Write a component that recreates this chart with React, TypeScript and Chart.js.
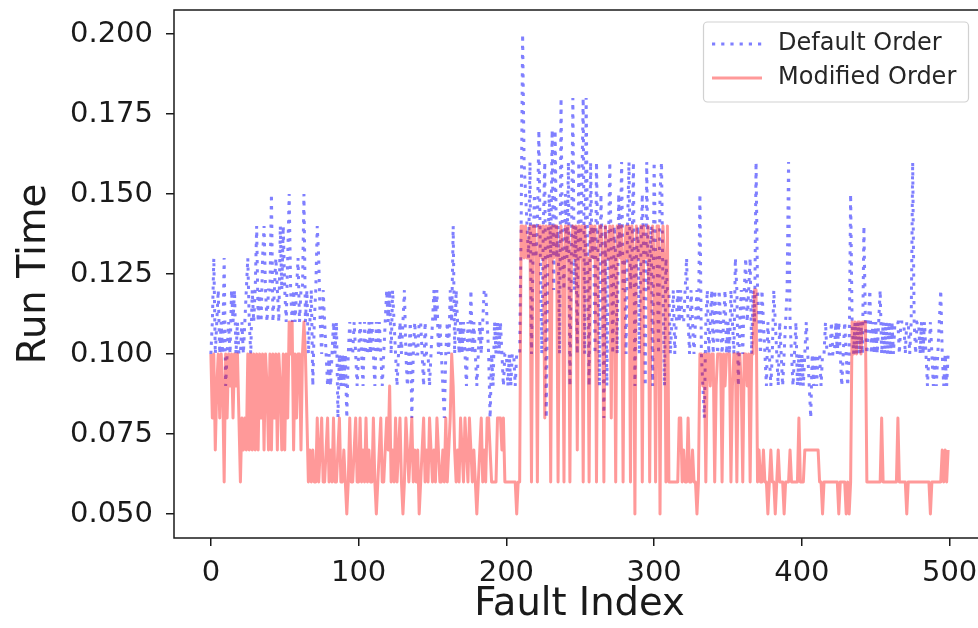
import React, { useEffect, useRef } from "react";
import { Chart, registerables } from "chart.js";

Chart.register(...registerables);

// Run times in hundredths of a second, one value per fault index (0..499)
const defaultOrder: number[] = [
  10,11,13,10,11,12,10,11,10,13,
  9,10,11,10,12,11,12,10,11,10,
  10,11,10,11,12,13,11,10,12,11,
  12,14,11,12,11,13,14,12,11,12,
  12,15,11,12,13,12,11,14,12,14,
  12,11,13,15,12,11,12,11,12,13,
  11,12,12,15,11,12,10,11,12,9,
  11,12,14,13,11,10,12,11,10,9,
  10,9,10,11,10,11,8,10,9,10,
  9,10,8,10,11,10,10,11,10,9,
  10,11,10,9,11,10,10,11,10,11,
  10,9,11,10,11,10,9,10,11,12,
  11,12,10,12,11,10,9,10,11,10,
  11,12,10,9,10,11,8,10,11,10,
  10,11,11,10,9,11,10,10,9,10,
  11,12,11,12,10,11,10,9,8,10,
  11,10,12,11,14,10,12,11,10,11,
  10,11,10,9,11,10,12,10,11,10,
  9,10,11,10,11,12,12,11,10,8,
  10,9,11,10,11,10,11,10,9,10,
  10,9,10,9,10,10,9,10,10,10,
  14,20,16,15,14,13,16,10,13,15,
  13,14,17,13,10,14,16,8,13,15,
  13,17,12,17,13,14,10,18,13,12,
  15,13,16,9,13,18,12,14,10,16,
  13,15,18,10,18,13,9,16,13,14,
  10,16,13,9,15,13,8,14,9,13,
  16,13,10,14,13,10,15,13,16,12,
  13,10,14,16,12,13,16,9,13,14,
  10,13,15,13,9,16,12,13,14,9,
  16,13,13,10,15,16,12,9,13,12,
  12,10,11,12,10,11,12,11,12,11,
  11,12,13,11,10,12,11,10,11,12,
  11,15,10,9,8,11,12,10,11,12,
  10,12,11,10,12,11,10,11,12,10,
  11,10,12,11,10,13,12,9,11,12,
  10,12,13,11,12,13,10,12,11,16,
  12,11,10,12,11,10,9,11,10,9,
  10,12,11,10,9,11,10,9,10,11,
  12,16,11,10,9,10,11,9,10,9,
  10,9,10,11,10,9,8,10,9,10,
  9,10,10,9,10,10,11,10,10,10,
  11,10,10,11,10,11,10,9,10,11,
  10,9,10,15,11,10,11,10,11,10,
  11,10,14,11,10,11,12,10,11,10,
  11,10,11,12,10,11,10,11,10,11,
  10,11,10,11,11,11,10,11,11,11,
  10,11,11,10,11,16,11,10,11,11,
  10,11,10,11,10,9,10,11,10,9,
  10,9,10,11,12,10,9,10,9,10,
];

const modifiedOrder: number[] = [
  10,8,10,7,9,10,8,10,9,6,
  10,8,10,9,10,8,10,9,10,8,
  6,8,7,8,7,10,7,10,7,10,
  7,10,7,10,8,10,7,10,9,7,
  10,7,10,8,10,7,10,9,7,10,
  7,10,8,11,10,11,7,10,8,10,
  10,7,10,11,10,8,6,7,6,7,
  6,6,8,6,7,8,6,6,7,8,
  6,7,6,8,6,6,7,8,6,6,
  7,6,5,6,8,6,6,7,8,6,
  6,8,6,7,6,8,6,7,6,6,
  8,6,5,6,7,8,6,6,7,8,
  7,9,6,7,6,8,6,7,8,6,
  5,6,8,7,6,7,8,6,7,6,
  7,5,6,7,8,6,7,6,8,7,
  6,7,6,8,7,6,6,7,6,8,
  6,7,8,10,9,7,6,7,6,8,
  7,6,8,7,6,8,7,6,7,6,
  5,6,7,8,6,7,6,8,8,7,
  6,6,6,6,8,8,8,7,8,6,
  6,6,6,6,6,6,6,5,6,6,
  14,14,13,14,13,13,14,6,14,14,
  13,6,14,14,13,14,8,14,13,14,
  6,14,13,14,14,6,13,14,13,6,
  14,13,14,6,13,14,13,14,7,14,
  13,14,6,14,13,13,6,14,14,13,
  14,6,13,14,14,13,6,14,13,13,
  14,8,14,13,6,14,14,13,14,6,
  13,14,13,14,6,14,13,5,14,13,
  13,14,6,14,13,13,14,6,13,14,
  13,6,14,14,5,13,14,13,6,14,
  6,6,6,6,6,6,6,8,8,6,
  7,6,6,8,6,6,7,6,6,5,
  6,10,10,9,10,6,10,10,9,10,
  10,6,9,10,10,10,6,10,9,10,
  10,10,6,9,10,10,6,10,10,9,
  6,10,10,9,10,6,10,10,12,12,
  6,7,6,6,7,6,6,5,6,7,
  6,6,5,6,7,6,6,6,5,6,
  6,6,7,6,6,6,6,6,8,6,
  6,6,7,7,7,7,7,7,7,7,
  7,7,6,6,5,6,6,6,6,6,
  6,6,6,6,6,5,6,6,6,6,
  5,6,5,6,11,10,11,10,11,11,
  10,11,11,11,6,6,6,6,6,6,
  6,6,6,6,8,6,6,6,6,6,
  6,6,6,6,6,8,6,6,6,6,
  6,5,6,6,6,6,6,6,6,6,
  6,6,6,6,6,6,6,5,6,6,
  6,6,6,6,6,7,6,7,6,7,
];

const seriesLabels = ["Default Order", "Modified Order"];
const xTickValues = [0, 100, 200, 300, 400, 500];
const yTickValues = [0.05, 0.075, 0.1, 0.125, 0.15, 0.175, 0.2];

const FONT = '"DejaVu Sans", "Liberation Sans", sans-serif';
const INK = "#1a1a1a";

const framePlugin = {
  id: "mplFrame",
  afterDatasetsDraw(chart: any) {
    const { ctx, chartArea } = chart;
    ctx.save();
    ctx.strokeStyle = INK;
    ctx.lineWidth = 1.5;
    ctx.setLineDash([]);
    ctx.strokeRect(chartArea.left, chartArea.top, chartArea.right - chartArea.left, chartArea.bottom - chartArea.top);
    ctx.restore();
  },
};

const legendPlugin = {
  id: "mplLegend",
  afterDraw(chart: any) {
    const ctx = chart.ctx;
    ctx.save();
    const bx = 703.5, by = 22, bw = 265, bh = 80;
    ctx.beginPath();
    if ((ctx as any).roundRect) (ctx as any).roundRect(bx, by, bw, bh, 4);
    else ctx.rect(bx, by, bw, bh);
    ctx.fillStyle = "rgba(255,255,255,0.8)";
    ctx.fill();
    ctx.strokeStyle = "rgba(204,204,204,0.9)";
    ctx.lineWidth = 1.2;
    ctx.stroke();
    chart.data.datasets.forEach((ds: any, k: number) => {
      const y = 44 + k * 34;
      ctx.strokeStyle = ds.borderColor;
      ctx.lineWidth = ds.borderWidth;
      ctx.setLineDash(ds.borderDash || []);
      ctx.beginPath();
      ctx.moveTo(712, y);
      ctx.lineTo(762, y);
      ctx.stroke();
      ctx.setLineDash([]);
      ctx.fillStyle = "#262626";
      ctx.font = `24px ${FONT}`;
      ctx.textBaseline = "middle";
      ctx.textAlign = "left";
      ctx.fillText(ds.label, 778, y);
    });
    ctx.restore();
  },
};

export default function App() {
  const canvasRef = useRef<HTMLCanvasElement | null>(null);

  useEffect(() => {
    const canvas = canvasRef.current;
    if (!canvas) return;
    const chart = new Chart(canvas, {
      type: "line",
      data: {
        datasets: [
          {
            label: seriesLabels[0],
            data: defaultOrder.map((v, i) => ({ x: i, y: v / 100 })),
            borderColor: "rgba(0,0,255,0.5)",
            borderWidth: 3,
            borderDash: [3.2, 6],
            borderCapStyle: "butt",
            pointRadius: 0,
            tension: 0,
            fill: false,
            order: 1,
          },
          {
            label: seriesLabels[1],
            data: modifiedOrder.map((v, i) => ({ x: i, y: v / 100 })),
            borderColor: "rgba(255,0,0,0.4)",
            borderWidth: 3,
            borderJoinStyle: "round",
            pointRadius: 0,
            tension: 0,
            fill: false,
            order: 0,
          },
        ],
      } as any,
      options: {
        responsive: false,
        animation: false,
        devicePixelRatio: 1,
        layout: { padding: { top: 10, right: 5, left: 0, bottom: 0 } },
        plugins: { legend: { display: false }, tooltip: { enabled: false } },
        scales: {
          x: {
            type: "linear",
            min: -24.95,
            max: 523.95,
            afterBuildTicks: (s: any) => {
              s.ticks = xTickValues.map((v) => ({ value: v }));
            },
            afterFit: (s: any) => {
              s.height = 90;
              s.paddingLeft = 0;
              s.paddingRight = 0;
            },
            border: { display: false },
            grid: { drawOnChartArea: false, drawTicks: true, tickLength: 8, color: INK, lineWidth: 1.5 },
            ticks: {
              font: { family: FONT, size: 29 },
              color: INK,
              padding: 10,
              maxRotation: 0,
              autoSkip: false,
              callback: (v: any) => String(v),
            },
            title: {
              display: true,
              text: "Fault Index",
              font: { family: FONT, size: 38.5 },
              color: INK,
              padding: { top: 0, bottom: 0 },
            },
          },
          y: {
            type: "linear",
            min: 0.0425,
            max: 0.2075,
            afterBuildTicks: (s: any) => {
              s.ticks = yTickValues.map((v) => ({ value: v }));
            },
            afterFit: (s: any) => {
              s.width = 174;
              s.paddingTop = 0;
              s.paddingBottom = 0;
            },
            border: { display: false },
            grid: { drawOnChartArea: false, drawTicks: true, tickLength: 8, color: INK, lineWidth: 1.5 },
            ticks: {
              font: { family: FONT, size: 29 },
              color: INK,
              padding: 13,
              autoSkip: false,
              callback: (v: any) => Number(v).toFixed(3),
            },
            title: {
              display: true,
              text: "Run Time",
              font: { family: FONT, size: 38.5 },
              color: INK,
              padding: { top: 12, bottom: 0 },
            },
          },
        },
      } as any,
      plugins: [framePlugin, legendPlugin],
    });
    return () => chart.destroy();
  }, []);

  return (
    <div
      style={{
        position: "absolute",
        left: 0,
        top: 0,
        width: 978,
        height: 628,
        overflow: "hidden",
        background: "#ffffff",
      }}
    >
      <canvas ref={canvasRef} width={990} height={628} style={{ display: "block", width: 990, height: 628 }} />
    </div>
  );
}
